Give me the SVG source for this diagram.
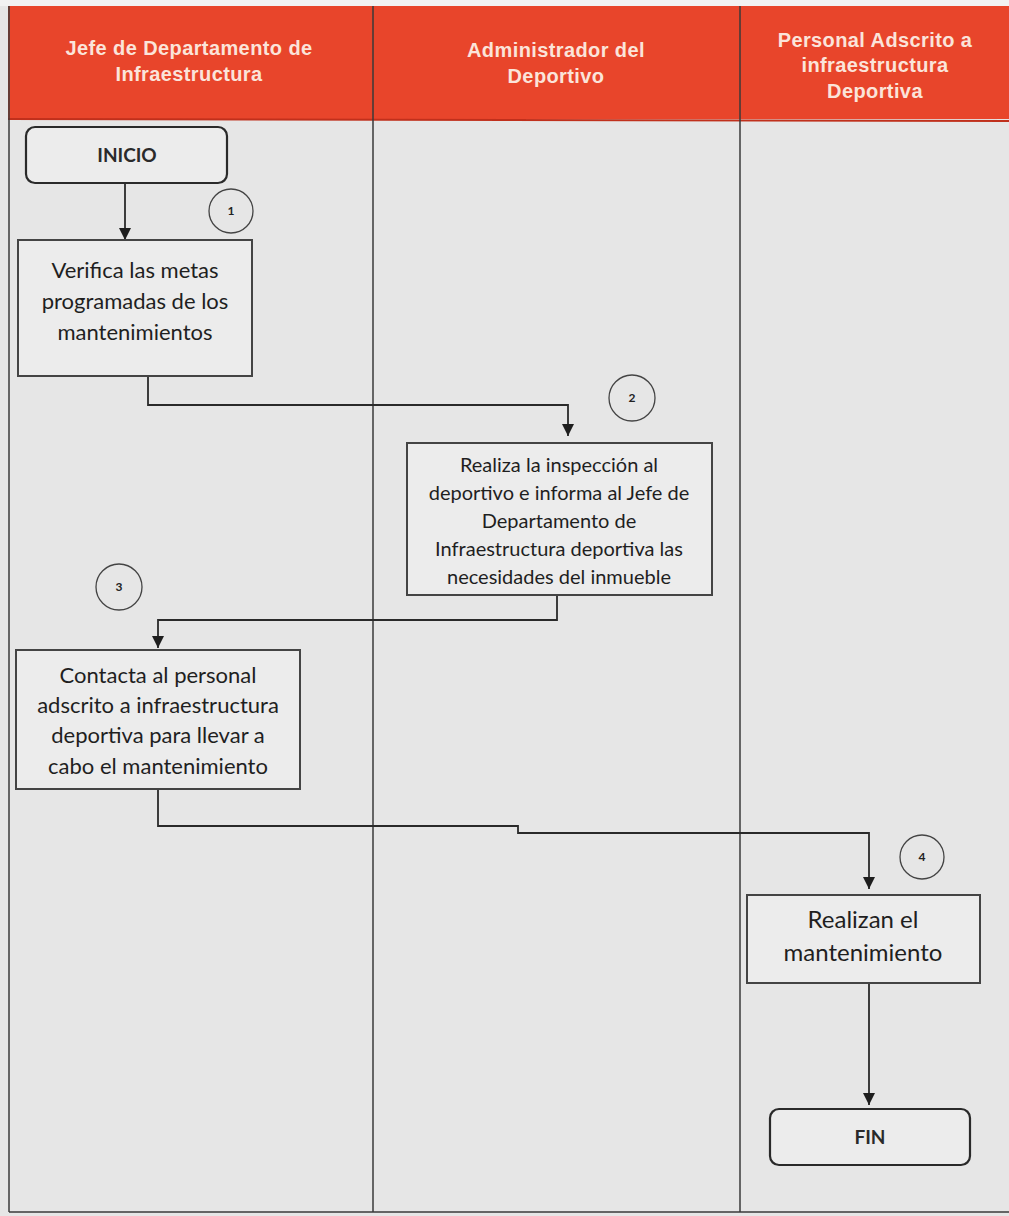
<svg xmlns="http://www.w3.org/2000/svg" width="1009" height="1216" viewBox="0 0 1009 1216">
  <style>
    .lane { fill: none; stroke: #3a3a3a; stroke-width: 1.5; }
    .hdr { font-family: "Liberation Sans", Arial, sans-serif; font-size: 20px; font-weight: bold; letter-spacing: 0.4px; fill: #fbe4da; text-anchor: middle; }
    .box { fill: #ececec; stroke: #444; stroke-width: 2; }
    .term { fill: #ececec; stroke: #2a2a2a; stroke-width: 2.2; }
    .txt { font-family: Lato, "Open Sans", sans-serif; font-size: 22px; fill: #1f1f1f; text-anchor: middle; }
    .txt2 { font-family: Lato, "Open Sans", sans-serif; font-size: 20px; fill: #1f1f1f; text-anchor: middle; }
    .txt3 { font-family: Lato, "Open Sans", sans-serif; font-size: 24px; fill: #1f1f1f; text-anchor: middle; }
    .term-txt { font-family: Lato, "Open Sans", sans-serif; font-size: 19px; font-weight: bold; fill: #2a2a2a; text-anchor: middle; }
    .num { fill: none; stroke: #444; stroke-width: 1.3; }
    .numt { font-family: Lato, "Open Sans", sans-serif; font-size: 12px; font-weight: bold; fill: #222; text-anchor: middle; }
    .conn { fill: none; stroke: #2a2a2a; stroke-width: 1.8; }
  </style>
  <defs>
    <marker id="arrow" viewBox="0 0 12 12" refX="12" refY="6" markerWidth="12" markerHeight="12" orient="auto" markerUnits="userSpaceOnUse">
      <path d="M0,0 L12,6 L0,12 z" fill="#1e1e1e"/>
    </marker>
  </defs>

  <!-- page background -->
  <rect x="0" y="0" width="1009" height="1216" fill="#e6e6e6"/>
  <rect x="0" y="0" width="1009" height="6" fill="#f2f2f2"/>

  <!-- header band -->
  <g id="header">
    <rect x="8" y="6" width="1001" height="113" fill="#e8452b"/>
    <line x1="8" y1="119" x2="1009" y2="121" stroke="#c0301c" stroke-width="2"/>
    <text class="hdr" x="189" y="55">Jefe de Departamento de</text>
    <text class="hdr" x="189" y="81">Infraestructura</text>
    <text class="hdr" x="556" y="57">Administrador del</text>
    <text class="hdr" x="556" y="83">Deportivo</text>
    <text class="hdr" x="875" y="47">Personal Adscrito a</text>
    <text class="hdr" x="875" y="72">infraestructura</text>
    <text class="hdr" x="875" y="98">Deportiva</text>
  </g>

  <!-- lane borders -->
  <g id="lanes">
    <line class="lane" x1="9" y1="6" x2="9" y2="1212"/>
    <line class="lane" x1="373" y1="6" x2="373" y2="1212"/>
    <line class="lane" x1="740" y1="6" x2="740" y2="1212"/>
    <line class="lane" x1="9" y1="1212" x2="1009" y2="1212"/>
  </g>

  <!-- connectors -->
  <g id="connectors">
    <path class="conn" d="M125,184 L125,240" marker-end="url(#arrow)"/>
    <path class="conn" d="M148,377 L148,405 L568,405 L568,436" marker-end="url(#arrow)"/>
    <path class="conn" d="M557,596 L557,620 L158,620 L158,648" marker-end="url(#arrow)"/>
    <path class="conn" d="M158,790 L158,826 L518,826 L518,833 L869,833 L869,889" marker-end="url(#arrow)"/>
    <path class="conn" d="M869,984 L869,1105" marker-end="url(#arrow)"/>
  </g>

  <!-- step markers -->
  <g id="marker1"><circle class="num" cx="231" cy="211" r="22"/><text class="numt" x="231" y="215">1</text></g>
  <g id="marker2"><circle class="num" cx="632" cy="398" r="23"/><text class="numt" x="632" y="402">2</text></g>
  <g id="marker3"><circle class="num" cx="119" cy="587" r="23"/><text class="numt" x="119" y="591">3</text></g>
  <g id="marker4"><circle class="num" cx="922" cy="857" r="22"/><text class="numt" x="922" y="861">4</text></g>

  <!-- nodes -->
  <g id="inicio">
    <rect class="term" x="26" y="127" width="201" height="56" rx="9"/>
    <text class="term-txt" x="127" y="162">INICIO</text>
  </g>

  <g id="verifica">
    <rect class="box" x="18" y="240" width="234" height="136"/>
    <text class="txt" x="135" y="278">Verifica las metas</text>
    <text class="txt" x="135" y="309">programadas de los</text>
    <text class="txt" x="135" y="340">mantenimientos</text>
  </g>

  <g id="inspeccion">
    <rect class="box" x="407" y="443" width="305" height="152"/>
    <text class="txt2" x="559" y="472">Realiza la inspección al</text>
    <text class="txt2" x="559" y="500">deportivo e informa al Jefe de</text>
    <text class="txt2" x="559" y="528">Departamento de</text>
    <text class="txt2" x="559" y="556">Infraestructura deportiva las</text>
    <text class="txt2" x="559" y="584">necesidades del inmueble</text>
  </g>

  <g id="contacta">
    <rect class="box" x="16" y="650" width="284" height="139"/>
    <text class="txt" x="158" y="683">Contacta al personal</text>
    <text class="txt" x="158" y="713">adscrito a infraestructura</text>
    <text class="txt" x="158" y="743">deportiva para llevar a</text>
    <text class="txt" x="158" y="774">cabo el mantenimiento</text>
  </g>

  <g id="realizan">
    <rect class="box" x="747" y="895" width="233" height="88"/>
    <text class="txt3" x="863" y="928">Realizan el</text>
    <text class="txt3" x="863" y="961">mantenimiento</text>
  </g>

  <g id="fin">
    <rect class="term" x="770" y="1109" width="200" height="56" rx="9"/>
    <text class="term-txt" x="870" y="1144">FIN</text>
  </g>
</svg>
